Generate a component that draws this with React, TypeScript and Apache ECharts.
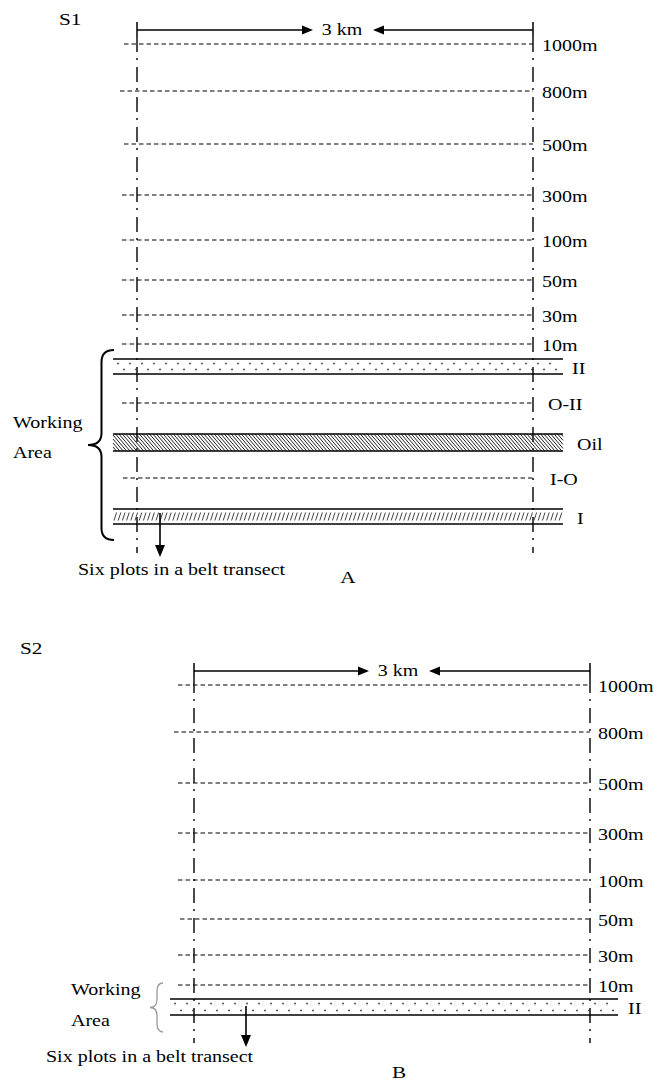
import React, { useEffect, useRef } from "react";
import * as echarts from "echarts";

const WIDTH = 654;
const HEIGHT = 1080;
const FONT_FAMILY = "Liberation Serif";
const SX = 1.25;

// ---- data ----
const distanceLabels = ["1000m", "800m", "500m", "300m", "100m", "50m", "30m", "10m"];
const levelRowsA = [44, 91, 144, 195, 240, 280, 315, 344];
const levelStartsA = [124, 120, 124, 122, 122, 122, 122, 122];
const levelRowsB = [685, 732, 783, 833, 880, 919, 955, 985];
const levelStartsB = [178, 174, 178, 178, 178, 180, 178, 178];

const zoneLabelsA = ["O-II", "I-O"];
const zoneRowsA = [403, 478];
const zoneStartsA = [122, 123];

const bandLabelsA = ["II", "Oil", "I"];
const bandTopsA = [359, 434, 509];
const bandBottomsA = [374, 451, 524];
const bandFillsA = ["dots", "hatch", "fine"];
const bandLabelsB = ["II"];
const bandTopsB = [999];
const bandBottomsB = [1015];
const bandFillsB = ["dots"];

const spanLabel = "3 km";
const captionLabels = ["S1", "A", "S2", "B"];
const workingLabels = ["Working", "Area"];
const transectLabel = "Six plots in a belt transect";

// ---- layout ----
const panelA = {
  xL: 137, xR: 533, spanY: 30, spanShift: 7, vTop: 37, vBottom: 553,
  bandL: 113, bandR: 563, levelGap: 9, zoneGaps: [15, 17], bandGaps: [9, 14, 14],
  arrow: [160, 513, 557],
  brace: { x: 114, y0: 350, y1: 540, tip: 88, color: "#000", w: 2 },
  caption: [[59, 19], [348, 577]],
  working: [[13, 423], [13, 453]],
  transect: [78, 570],
};
const panelB = {
  xL: 194, xR: 590, spanY: 671, spanShift: 6, vTop: 678, vBottom: 1043,
  bandL: 170, bandR: 618, levelGap: 8, zoneGaps: [], bandGaps: [10],
  arrow: [246, 1006, 1047],
  brace: { x: 163, y0: 983, y1: 1032, tip: 150, color: "#9a9a9a", w: 1.3 },
  caption: [[20, 648], [399, 1072]],
  working: [[71, 990], [71, 1021]],
  transect: [46, 1057],
};

function textEl(x: number, y: number, text: string, align = "left", size = 16, fill = "#000") {
  return {
    type: "text",
    x, y, scaleX: SX,
    style: {
      text, x: 0, y: 0, fill,
      fontSize: size,
      fontFamily: FONT_FAMILY,
      textAlign: align, textVerticalAlign: "middle",
      align, verticalAlign: "middle",
    },
  };
}

function lineEl(x1: number, y1: number, x2: number, y2: number, w = 1, dash?: number[], color = "#000") {
  const style: any = { stroke: color, lineWidth: w };
  if (dash) style.lineDash = dash;
  return { type: "line", shape: { x1, y1, x2, y2 }, style };
}

function levelSeries(rows: number[], starts: number[], labels: string[], panel: any, gaps: number[] | number) {
  return {
    type: "custom", silent: true, clip: false,
    data: rows.map((y, i) => [starts[i], y]),
    renderItem: (params: any, api: any) => {
      const i = params.dataIndex;
      const a = api.coord([api.value(0), api.value(1)]);
      const b = api.coord([panel.xR, api.value(1)]);
      const gap = Array.isArray(gaps) ? gaps[i] : gaps;
      return {
        type: "group",
        children: [
          lineEl(a[0], a[1], b[0], b[1], 1, [4.5, 3]),
          textEl(b[0] + gap, b[1] + 1.5, labels[i]),
        ],
      };
    },
  };
}

function bandSeries(tops: number[], bottoms: number[], fills: string[], labels: string[], panel: any) {
  return {
    type: "custom", silent: true, clip: false,
    data: tops.map((t, i) => [panel.bandL, t, panel.bandR, bottoms[i]]),
    renderItem: (params: any, api: any) => {
      const i = params.dataIndex;
      const p0 = api.coord([api.value(0), api.value(1)]);
      const p1 = api.coord([api.value(2), api.value(3)]);
      const L = p0[0], T = p0[1], R = p1[0], B = p1[1];
      const kids: any[] = [];
      const kind = fills[i];
      if (kind === "dots") {
        for (let x = L + 5; x < R - 2; x += 12) {
          kids.push({ type: "circle", shape: { cx: x, cy: T + 4.5, r: 0.8 }, style: { fill: "#333" } });
          if (x + 6 < R - 2)
            kids.push({ type: "circle", shape: { cx: x + 6, cy: B - 4.5, r: 0.8 }, style: { fill: "#333" } });
        }
      } else if (kind === "hatch") {
        const h = B - T;
        const dx = h * 0.85;
        for (let x0 = L - dx; x0 < R; x0 += 3.4) {
          let x1 = x0, y1 = T, x2 = x0 + dx, y2 = B;
          if (x1 < L) { y1 += (L - x1) * (h / dx); x1 = L; }
          if (x2 > R) { y2 -= (x2 - R) * (h / dx); x2 = R; }
          if (x2 > x1) kids.push(lineEl(x1, y1, x2, y2, 1, undefined, "#222"));
        }
      } else if (kind === "fine") {
        for (let x = L + 1; x < R - 3; x += 4.2) {
          kids.push(lineEl(x, B - 3.5, x + 2.6, T + 3.5, 1, undefined, "#444"));
        }
      }
      kids.push(lineEl(L, T, R, T, 1.4));
      kids.push(lineEl(L, B, R, B, 1.4));
      kids.push(textEl(R + panel.bandGaps[i], (T + B) / 2 + 2, labels[i]));
      return { type: "group", children: kids };
    },
  };
}

function frameSeries(panel: any) {
  return {
    type: "custom", silent: true, clip: false,
    data: [[panel.xL, panel.xR, panel.spanY, panel.vTop, panel.vBottom]],
    renderItem: (params: any, api: any) => {
      const l = api.coord([api.value(0), api.value(2)]);
      const r = api.coord([api.value(1), api.value(2)]);
      const top = api.coord([api.value(0), api.value(3)])[1];
      const bot = api.coord([api.value(0), api.value(4)])[1];
      const y = l[1];
      const cx = (l[0] + r[0]) / 2 + panel.spanShift;
      const tipR = cx - 29;
      const tipL = cx + 31;
      const dash = [15, 6, 2, 7];
      return {
        type: "group",
        children: [
          lineEl(l[0], top, l[0], bot, 1.4, dash),
          lineEl(r[0], top, r[0], bot, 1.4, dash),
          lineEl(l[0], y - 8, l[0], y + 7, 1.5),
          lineEl(r[0], y - 8, r[0], y + 7, 1.5),
          lineEl(l[0], y, tipR - 10, y, 1.5),
          lineEl(tipL + 10, y, r[0], y, 1.5),
          { type: "polygon", shape: { points: [[tipR, y], [tipR - 11, y - 4.5], [tipR - 11, y + 4.5]] }, style: { fill: "#000" } },
          { type: "polygon", shape: { points: [[tipL, y], [tipL + 11, y - 4.5], [tipL + 11, y + 4.5]] }, style: { fill: "#000" } },
          textEl(cx, y, spanLabel, "center"),
        ],
      };
    },
  };
}

function arrowSeries(panel: any) {
  return {
    type: "custom", silent: true, clip: false,
    data: [panel.arrow],
    renderItem: (params: any, api: any) => {
      const a = api.coord([api.value(0), api.value(1)]);
      const b = api.coord([api.value(0), api.value(2)]);
      return {
        type: "group",
        children: [
          lineEl(a[0], a[1], b[0], b[1] - 10, 1.6),
          { type: "polygon", shape: { points: [[b[0], b[1]], [b[0] - 5, b[1] - 12], [b[0] + 5, b[1] - 12]] }, style: { fill: "#000" } },
        ],
      };
    },
  };
}

function braceSeries(panel: any) {
  const br = panel.brace;
  return {
    type: "custom", silent: true, clip: false,
    data: [[br.x, br.y0, br.y1, br.tip]],
    renderItem: (params: any, api: any) => {
      const t = api.coord([api.value(0), api.value(1)]);
      const b = api.coord([api.value(0), api.value(2)]);
      const tip = api.coord([api.value(3), (api.value(1) + api.value(2)) / 2]);
      const xr = t[0];
      const xs = (xr + tip[0]) / 2 + 0.5;
      const ym = tip[1];
      const r = Math.min(12, (b[1] - t[1]) / 6);
      const d = `M${xr} ${t[1]} Q${xs} ${t[1]} ${xs} ${t[1] + r} L${xs} ${ym - r} Q${xs} ${ym} ${tip[0]} ${ym} Q${xs} ${ym} ${xs} ${ym + r} L${xs} ${b[1] - r} Q${xs} ${b[1]} ${xr} ${b[1]}`;
      return {
        type: "path",
        shape: { pathData: d },
        style: { stroke: br.color, lineWidth: br.w, fill: "none" },
      };
    },
  };
}

function textSeries(panel: any, captions: string[]) {
  const items: any[] = [
    { pos: panel.caption[0], text: captions[0], align: "left", size: 17 },
    { pos: panel.caption[1], text: captions[1], align: "center", size: 17 },
    { pos: panel.working[0], text: workingLabels[0], align: "left", size: 16 },
    { pos: panel.working[1], text: workingLabels[1], align: "left", size: 16 },
    { pos: panel.transect, text: transectLabel, align: "left", size: 16 },
  ];
  return {
    type: "custom", silent: true, clip: false,
    data: items.map((it) => it.pos),
    renderItem: (params: any, api: any) => {
      const it = items[params.dataIndex];
      const p = api.coord([api.value(0), api.value(1)]);
      return textEl(p[0], p[1], it.text, it.align, it.size);
    },
  };
}

export default function App() {
  const ref = useRef<HTMLDivElement>(null);
  useEffect(() => {
    document.body.style.margin = "0";
    if (!ref.current) return;
    const chart = echarts.init(ref.current, null, { renderer: "svg" });
    chart.setOption({
      animation: false,
      backgroundColor: "#fff",
      grid: { left: 0, top: 0, right: 0, bottom: 0 },
      xAxis: { type: "value", min: 0, max: WIDTH, show: false },
      yAxis: { type: "value", min: 0, max: HEIGHT, inverse: true, show: false },
      series: [
        frameSeries(panelA),
        levelSeries(levelRowsA, levelStartsA, distanceLabels, panelA, panelA.levelGap),
        levelSeries(zoneRowsA, zoneStartsA, zoneLabelsA, panelA, panelA.zoneGaps),
        bandSeries(bandTopsA, bandBottomsA, bandFillsA, bandLabelsA, panelA),
        arrowSeries(panelA),
        braceSeries(panelA),
        textSeries(panelA, [captionLabels[0], captionLabels[1]]),
        frameSeries(panelB),
        levelSeries(levelRowsB, levelStartsB, distanceLabels, panelB, panelB.levelGap),
        bandSeries(bandTopsB, bandBottomsB, bandFillsB, bandLabelsB, panelB),
        arrowSeries(panelB),
        braceSeries(panelB),
        textSeries(panelB, [captionLabels[2], captionLabels[3]]),
      ],
    });
    return () => chart.dispose();
  }, []);
  return (
    <div
      ref={ref}
      style={{ position: "absolute", left: 0, top: 0, width: WIDTH, height: HEIGHT }}
    />
  );
}
